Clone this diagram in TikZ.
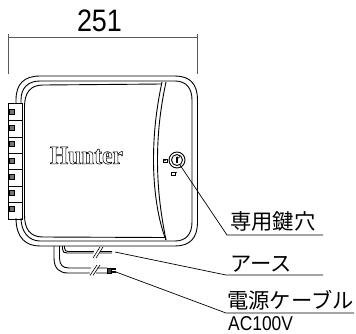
\documentclass[tikz,border=0pt]{standalone}
\usepackage{fontspec}
\setmainfont{Liberation Sans}
\newfontfamily\jpfont{Noto Sans CJK JP}
\newfontfamily\logofont{Liberation Serif}
\tikzset{
  body/.style={line width=0.9pt,black},
  thin/.style={line width=0.6pt,black},
  dim/.style={line width=1pt,black!65},
  lead/.style={line width=0.7pt,black},
  jp/.style={inner sep=0pt,anchor=base west,font=\fontsize{21.3}{21}\jpfont},
  tiny/.style={line width=0.6pt,fill=white,draw=black},
  termpin/.style={fill=black!55,draw=black,line width=0.7pt,inner sep=0pt,minimum width=5pt,minimum height=5pt},
}
\begin{document}
\begin{tikzpicture}[x=1pt,y=-1pt]
\useasboundingbox (0,0) rectangle (356,333);
% dimension
\coordinate (dl) at (8,37.5);
\coordinate (dr) at (197.5,37.5);
\draw[dim] (dl) -- (dr);
\draw[dim] (8,34) -- (8,74);
\draw[dim] (197.5,34) -- (197.5,74);
\node[inner sep=0pt,xscale=.87] (dimtext) at (99.5,21) {\fontsize{31}{31}\selectfont 251};
% body outlines
\draw[body] (16,103) -- (16,100) .. controls (16,84) and (24,76) .. (40,76) -- (175,76)
  .. controls (190,76) and (197.5,84) .. (197.5,100) -- (197.5,222)
  .. controls (197.5,238) and (190,246) .. (175,246) -- (40,246)
  .. controls (26,246) and (16,238) .. (16,218);
\draw[body] (21,103) -- (21,100) .. controls (21,88) and (28,81) .. (40,81) -- (175,81)
  .. controls (186,81) and (192,88) .. (192,100) -- (192,222)
  .. controls (192,234) and (186,241) .. (175,241) -- (40,241)
  .. controls (29,241) and (21,232) .. (21,218);
\draw[body] (24.5,107) .. controls (24.5,93) and (30,85) .. (43,85) -- (162,84);
\draw[body] (24.5,107) -- (24.5,215) .. controls (24.5,229) and (30,237) .. (43,237) -- (166,237.5);
% door panel
\draw[body] (162,82) .. controls (156,110) and (153.5,135) .. (153.5,160) .. controls (153.5,190) and (158,220) .. (166,240);
\draw[body] (166,82) .. controls (160,110) and (157.5,135) .. (157.5,160) .. controls (157.5,190) and (161,215) .. (166,240);
% terminals
\draw[body] (8,103) -- (22,103) -- (22,219) -- (8,219) -- cycle;
\foreach \y in {120,137,153,169,186,202}{\draw[body] (8,\y) -- (22,\y);}
\foreach \y [count=\i] in {112,128,144,161,177,193,209}{
  \node[termpin] (pin\i) at (12,\y) {};
}
% logo
\node[inner sep=0pt,xscale=.9] (logo) at (86.5,155.5) {\special{pdf:code q 1 Tr 0.6 w}\fontsize{26}{26}\logofont\bfseries Hunter\special{pdf:code Q}};
% key
\coordinate (key) at (177,160);
\draw[body] (key) circle[radius=8];
\draw[body] (key) circle[radius=5.5];
\draw[line width=1.2pt] (177,157) -- (177,163);
\draw[thin] (177,156.5) arc[start angle=180,end angle=-60,radius=1.5];
\draw[tiny] (163,159.5) rectangle (167,162.5);
\draw[thin] (163.8,159.5) arc[start angle=180,end angle=0,radius=1.2];
\draw[tiny] (171,172) rectangle (175,175.5);
\draw[thin] (174,172) arc[start angle=180,end angle=0,radius=1.4];
% cables
\draw[body] (62.5,246) -- (62.5,249) .. controls (62.5,252) and (64,253) .. (67,253) -- (112,253);
\draw[body] (64.5,246) -- (64.5,248) .. controls (64.5,250.5) and (66,251.5) .. (68,251.5) -- (112,251.5);
\draw[body] (54,246) -- (54,258) .. controls (54,269) and (60,273) .. (68,273) -- (107,273);
\draw[body] (59.5,246) -- (59.5,258) .. controls (59.5,265) and (63,268) .. (69,268) -- (107,268);
% break marks
\fill[white] (95,248) -- (101,248) -- (98,258) -- (92,258) -- cycle;
\draw[thin] (93,258) -- (100,247);
\draw[thin] (96,258) -- (103,247);
\fill[white] (92,265) -- (98,265) -- (95,276) -- (89,276) -- cycle;
\draw[thin] (90,275.5) -- (97,265);
\draw[thin] (93,275.5) -- (100,265);
\node[fill=black!75,draw=black,line width=.5pt,inner sep=0pt,minimum width=4pt,minimum height=5pt] (plug) at (109,270.5) {};
\draw[line width=1.2pt] (111,269) -- (116,269);
\draw[line width=1.2pt] (111,272) -- (116,272);
\coordinate (gnd) at (115,252);
\coordinate (pwr) at (116,272);
% labels
\node[jp] (keyl) at (230,229) {専用鍵穴};
\node[jp] (earth) at (230,271) {アース};
\node[jp] (power) at (227,308) {電源ケーブル};
\node[inner sep=0pt,anchor=base west,xscale=.87] (ac) at (228,330.5) {\fontsize{20}{20}\selectfont AC100V};
% leaders
\coordinate (u1a) at (227,235); \coordinate (u1b) at (323,235);
\coordinate (u2a) at (226,275); \coordinate (u2b) at (323,275);
\coordinate (u3a) at (226,313); \coordinate (u3b) at (354,313);
\draw[lead] (180,165) -- (u1a) -- (u1b);
\draw[lead] (gnd) -- (u2a) -- (u2b);
\draw[lead] (pwr) -- (u3a) -- (u3b);
\end{tikzpicture}
\end{document}
